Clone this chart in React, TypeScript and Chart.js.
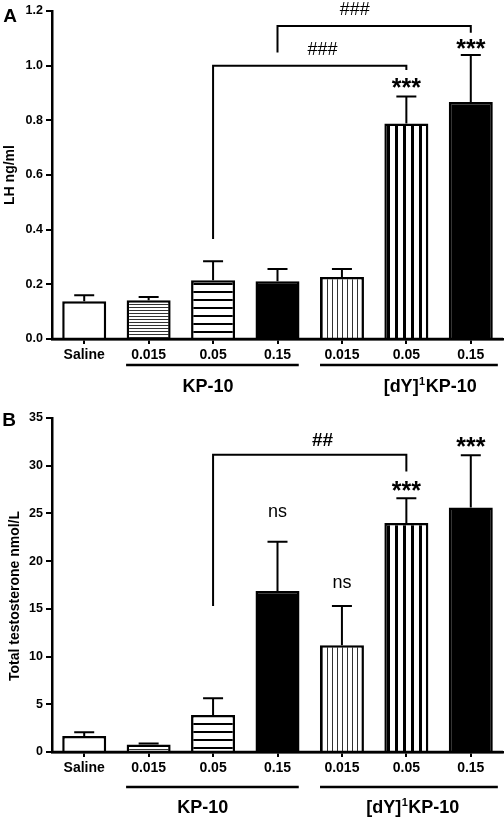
import React, { useEffect, useRef } from "react";
import { Chart, registerables } from "chart.js";

Chart.register(...registerables);

// ---------- data ----------
const categories = ["Saline", "0.015", "0.05", "0.15", "0.015", "0.05", "0.15"];
const fills = ["white", "hthin", "hthick", "black", "vthin", "vthick", "black"];

const lhMean = [0.138, 0.142, 0.215, 0.211, 0.227, 0.788, 0.867];
const lhUpper = [0.16, 0.154, 0.284, 0.256, 0.256, 0.887, 1.039];

const ttMean = [1.68, 0.79, 3.89, 16.88, 11.18, 23.99, 25.63];
const ttUpper = [2.07, 0.89, 5.64, 22.03, 15.3, 26.6, 31.1];

const lhBrackets = [
  { from: 2, to: 5, y: 1.0, leftEnd: 0.366, rightEnd: 0.984, label: "###", labelAt: 3.7, labelY: 1.061, bold: false },
  { from: 3, to: 6, y: 1.145, leftEnd: 1.048, rightEnd: 1.12, label: "###", labelAt: 4.2, labelY: 1.208, bold: false },
];
const lhMarks = [
  { at: 5, y: 0.937, text: "***" },
  { at: 6, y: 1.079, text: "***" },
];

const ttBrackets = [
  { from: 2, to: 5, y: 31.15, leftEnd: 15.3, rightEnd: 29.4, label: "##", labelAt: 3.7, labelY: 32.75, bold: true },
];
const ttMarks = [
  { at: 3, y: 25.16, text: "ns" },
  { at: 4, y: 17.74, text: "ns" },
  { at: 5, y: 27.9, text: "***" },
  { at: 6, y: 32.46, text: "***" },
];

const groupSpans = [
  { from: 0.65, to: 3.33 },
  { from: 3.66, to: 6.42 },
];

const FONT = '"Liberation Sans", Arial, Helvetica, sans-serif';

type PanelCfg = {
  height: number;
  padTop: number;
  xHeight: number;
  max: number;
  step: number;
  decimals: number;
  mean: number[];
  upper: number[];
  brackets: typeof lhBrackets;
  marks: typeof lhMarks;
  title: string;
  titlePos: [number, number];
  letter: string;
  letterPos: [number, number];
  groupLabelAt: [number, number];
  groupLineOffset: number;
  groupTextOffset: number;
};

const panels: PanelCfg[] = [
  {
    height: 400,
    padTop: 11,
    xHeight: 61,
    max: 1.2,
    step: 0.2,
    decimals: 1,
    mean: lhMean,
    upper: lhUpper,
    brackets: lhBrackets,
    marks: lhMarks,
    title: "LH ng/ml",
    titlePos: [9.5, 175],
    letter: "A",
    letterPos: [10, 15],
    groupLabelAt: [1.92, 5.37],
    groupLineOffset: 26,
    groupTextOffset: 46,
  },
  {
    height: 418,
    padTop: 18,
    xHeight: 66,
    max: 35,
    step: 5,
    decimals: 0,
    mean: ttMean,
    upper: ttUpper,
    brackets: ttBrackets,
    marks: ttMarks,
    title: "Total testosterone nmol/L",
    titlePos: [13, 196],
    letter: "B",
    letterPos: [9, 19],
    groupLabelAt: [1.84, 5.1],
    groupLineOffset: 35,
    groupTextOffset: 54,
  },
];

function makeFill(ctx: CanvasRenderingContext2D, kind: string): any {
  if (kind === "white") return "#ffffff";
  if (kind === "black") return "#000000";
  const c = document.createElement("canvas");
  let w = 4, h = 4;
  if (kind === "hthin") { w = 4; h = 3; }
  else if (kind === "hthick") { w = 4; h = 8; }
  else if (kind === "vthin") { w = 5; h = 4; }
  else if (kind === "vthick") { w = 8; h = 4; }
  c.width = w; c.height = h;
  const x = c.getContext("2d")!;
  x.fillStyle = "#fff";
  x.fillRect(0, 0, w, h);
  if (kind === "hthin") { x.fillStyle = "#333"; x.fillRect(0, 1, w, 1); }
  if (kind === "hthick") { x.fillStyle = "#000"; x.fillRect(0, 3, w, 2); }
  if (kind === "vthin") { x.fillStyle = "#333"; x.fillRect(2, 0, 1, h); }
  if (kind === "vthick") { x.fillStyle = "#000"; x.fillRect(3, 0, 3, h); }
  return ctx.createPattern(c, "repeat");
}

function textCentered(ctx: CanvasRenderingContext2D, text: string, x: number, cy: number, font: string) {
  ctx.font = font;
  ctx.textAlign = "center";
  ctx.textBaseline = "alphabetic";
  const m = ctx.measureText(text);
  ctx.fillText(text, x, cy + (m.actualBoundingBoxAscent - m.actualBoundingBoxDescent) / 2);
}

function Panel({ cfg }: { cfg: PanelCfg }) {
  const ref = useRef<HTMLCanvasElement | null>(null);
  useEffect(() => {
    const canvas = ref.current!;
    const ctx0 = canvas.getContext("2d")!;
    const bg = fills.map((f) => makeFill(ctx0, f));

    const overlay = {
      id: "overlay",
      afterDraw(chart: any) {
        const ctx: CanvasRenderingContext2D = chart.ctx;
        const xs = chart.scales.x;
        const ys = chart.scales.y;
        const area = chart.chartArea;
        const meta = chart.getDatasetMeta(0);
        ctx.save();
        ctx.strokeStyle = "#000";
        ctx.fillStyle = "#000";
        ctx.lineCap = "butt";

        // baseline redraw
        ctx.lineWidth = 2.5;
        ctx.beginPath();
        ctx.moveTo(area.left - 1, area.bottom);
        ctx.lineTo(area.right, area.bottom);
        ctx.stroke();

        // error bars (upper only)
        ctx.lineWidth = 2;
        cfg.mean.forEach((m, i) => {
          const bx = meta.data[i].x;
          const y0 = ys.getPixelForValue(m);
          const y1 = ys.getPixelForValue(cfg.upper[i]);
          ctx.beginPath();
          ctx.moveTo(bx, y0);
          ctx.lineTo(bx, y1);
          ctx.moveTo(bx - 10, y1);
          ctx.lineTo(bx + 10, y1);
          ctx.stroke();
        });

        // brackets
        ctx.lineWidth = 2;
        cfg.brackets.forEach((b) => {
          const xa = xs.getPixelForValue(b.from);
          const xb = xs.getPixelForValue(b.to);
          const yt = ys.getPixelForValue(b.y);
          ctx.beginPath();
          ctx.moveTo(xa, ys.getPixelForValue(b.leftEnd));
          ctx.lineTo(xa, yt);
          ctx.lineTo(xb, yt);
          ctx.lineTo(xb, ys.getPixelForValue(b.rightEnd));
          ctx.stroke();
          const f = b.bold ? `bold 19px ${FONT}` : `18px ${FONT}`;
          textCentered(ctx, b.label, xs.getPixelForValue(b.labelAt), ys.getPixelForValue(b.labelY), f);
        });

        // marks
        cfg.marks.forEach((mk) => {
          const font = mk.text === "ns" ? `18px ${FONT}` : `bold 25px ${FONT}`;
          textCentered(ctx, mk.text, xs.getPixelForValue(mk.at), ys.getPixelForValue(mk.y), font);
        });

        // group lines and labels
        ctx.lineWidth = 2.5;
        const gy = area.bottom + cfg.groupLineOffset;
        groupSpans.forEach((g) => {
          ctx.beginPath();
          ctx.moveTo(xs.getPixelForValue(g.from), gy);
          ctx.lineTo(xs.getPixelForValue(g.to), gy);
          ctx.stroke();
        });
        const ty = area.bottom + cfg.groupTextOffset;
        textCentered(ctx, "KP-10", xs.getPixelForValue(cfg.groupLabelAt[0]), ty, `bold 18px ${FONT}`);
        // [dY]^1KP-10
        {
          const f1 = `bold 18px ${FONT}`;
          const f2 = `bold 11px ${FONT}`;
          ctx.font = f1;
          const mA = ctx.measureText("[dY]");
          const mC = ctx.measureText("KP-10");
          const capRef = ctx.measureText("KP");
          ctx.font = f2;
          const mB = ctx.measureText("1");
          const total = mA.width + mB.width + 1 + mC.width;
          const cx = xs.getPixelForValue(cfg.groupLabelAt[1]);
          let x = cx - total / 2;
          const base = ty + capRef.actualBoundingBoxAscent / 2;
          ctx.textAlign = "left";
          ctx.textBaseline = "alphabetic";
          ctx.font = f1;
          ctx.fillText("[dY]", x, base);
          x += mA.width + 0.5;
          ctx.font = f2;
          ctx.fillText("1", x, base - 7);
          x += mB.width + 0.5;
          ctx.font = f1;
          ctx.fillText("KP-10", x, base);
        }

        // y title
        ctx.save();
        ctx.translate(cfg.titlePos[0], cfg.titlePos[1]);
        ctx.rotate(-Math.PI / 2);
        textCentered(ctx, cfg.title, 0, 0, `bold 14px ${FONT}`);
        ctx.restore();

        // panel letter
        textCentered(ctx, cfg.letter, cfg.letterPos[0], cfg.letterPos[1], `bold 19px ${FONT}`);

        ctx.restore();
      },
    };

    const chart = new Chart(canvas, {
      type: "bar",
      data: {
        labels: categories,
        datasets: [
          {
            data: cfg.mean,
            backgroundColor: bg,
            borderColor: "#000",
            borderWidth: 2.5,
            barPercentage: 0.683,
            categoryPercentage: 1,
          },
        ],
      },
      options: {
        responsive: false,
        animation: false,
        devicePixelRatio: 1,
        layout: { padding: { left: 0, right: 1, top: cfg.padTop, bottom: 0 } },
        plugins: {
          legend: { display: false },
          tooltip: { enabled: false },
        },
        scales: {
          x: {
            offset: true,
            grid: {
              display: true,
              drawOnChartArea: false,
              drawTicks: true,
              tickLength: 5,
              offset: false,
              color: "#000",
              lineWidth: 2,
            },
            border: { display: true, color: "#000", width: 2.5 },
            ticks: {
              color: "#000",
              font: { family: FONT, size: 14, weight: "bold" },
              padding: 3,
              maxRotation: 0,
              autoSkip: false,
            },
            afterFit: (s: any) => {
              s.height = cfg.xHeight;
            },
          },
          y: {
            min: 0,
            max: cfg.max,
            ticks: {
              stepSize: cfg.step,
              color: "#000",
              font: { family: FONT, size: 12.5, weight: "bold" },
              padding: 3,
              callback: (v: any) => Number(v).toFixed(cfg.decimals),
            },
            grid: {
              drawOnChartArea: false,
              drawTicks: true,
              tickLength: 6,
              color: "#000",
              lineWidth: 2,
            },
            border: { display: true, color: "#000", width: 2.5 },
            afterFit: (s: any) => {
              s.width = 52;
            },
          },
        },
      },
      plugins: [overlay],
    } as any);
    return () => chart.destroy();
  }, [cfg]);
  return <canvas ref={ref} width={504} height={cfg.height} style={{ display: "block", width: 504, height: cfg.height }} />;
}

export default function App() {
  return (
    <div style={{ position: "absolute", left: 0, top: 0, width: 504, height: 818, background: "#fff" }}>
      <Panel cfg={panels[0]} />
      <Panel cfg={panels[1]} />
    </div>
  );
}
